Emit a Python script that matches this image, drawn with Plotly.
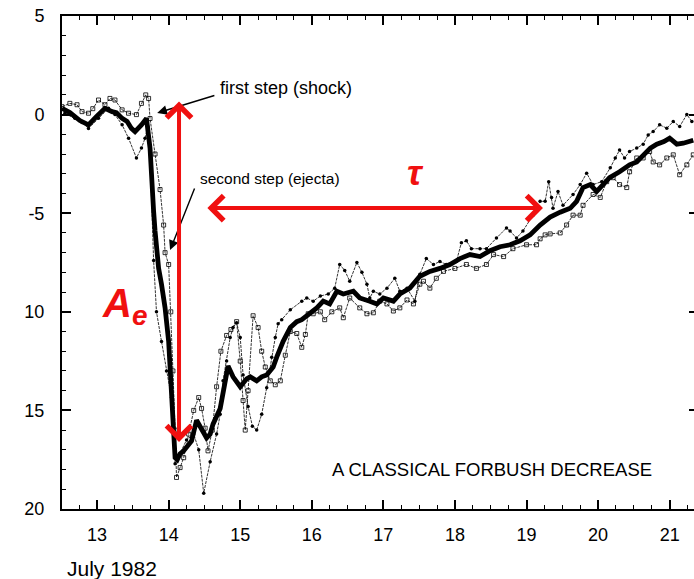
import plotly.graph_objects as go

# Cosmic-ray intensity (% change) vs. day of July 1982
# Hourly-smoothed average (thick) and two individual station records (thin)
avg_series = [
    (12.51, 0.32), (12.62, 0.1), (12.76, -0.3), (12.88, -0.52), (12.99, -0.1), (13.11, 0.32),
    (13.21, 0.15), (13.27, 0.1), (13.35, -0.19), (13.42, -0.35), (13.48, -0.7), (13.53, -0.86),
    (13.62, -0.52), (13.69, -0.19), (13.74, -1.7), (13.76, -3.4), (13.79, -4.9), (13.81, -5.9),
    (13.86, -7.8), (13.90, -8.6), (13.95, -9.8), (14.00, -11.5), (14.04, -13.85), (14.07, -16.2),
    (14.09, -17.4), (14.12, -17.5), (14.16, -17.2), (14.21, -17.05), (14.26, -16.8), (14.32, -16.55),
    (14.39, -15.5), (14.46, -15.9), (14.53, -16.4), (14.58, -16.2), (14.62, -15.7), (14.72, -14.9),
    (14.81, -13.2), (14.83, -12.75), (14.90, -13.3), (15.00, -13.8), (15.09, -13.4), (15.14, -13.3),
    (15.23, -13.5), (15.30, -13.3), (15.37, -13.2), (15.46, -12.8), (15.51, -12.3), (15.60, -11.5),
    (15.70, -10.8), (15.79, -10.5), (15.86, -10.4), (15.93, -10.2), (16.00, -10.0), (16.07, -9.8),
    (16.16, -9.46), (16.25, -9.6), (16.35, -8.96), (16.44, -9.1), (16.58, -8.96), (16.67, -9.3),
    (16.81, -9.46), (16.91, -9.6), (17.00, -9.3), (17.14, -9.46), (17.23, -9.1), (17.37, -8.8),
    (17.51, -8.2), (17.65, -7.95), (17.79, -7.8), (17.93, -7.6), (18.07, -7.3), (18.21, -7.1),
    (18.35, -7.2), (18.49, -6.9), (18.63, -6.7), (18.77, -6.6), (18.91, -6.4), (19.05, -6.1),
    (19.19, -5.6), (19.33, -5.2), (19.47, -4.95), (19.61, -4.75), (19.70, -4.4), (19.79, -3.7),
    (19.89, -3.55), (19.98, -3.9), (20.07, -3.55), (20.16, -3.2), (20.30, -2.9), (20.44, -2.55),
    (20.54, -2.4), (20.63, -2.1), (20.73, -1.7), (20.82, -1.5), (20.92, -1.37), (21.00, -1.2),
    (21.10, -1.5), (21.19, -1.45), (21.33, -1.3),
]

station_a = [
    (12.51, 0.4), (12.62, 0.57), (12.72, 0.5), (12.79, 0.15), (12.88, 0.07), (12.94, 0.3),
    (13.02, 0.74), (13.11, 0.5), (13.18, 0.82), (13.25, 0.74), (13.35, 0.24), (13.44, 0.07),
    (13.55, 0.0), (13.62, 0.57), (13.68, 1.0), (13.72, 0.82), (13.74, -0.2), (13.81, -2.0),
    (13.88, -3.8), (13.93, -5.6), (13.95, -7.0), (14.00, -7.6), (14.03, -10.0), (14.06, -13.0),
    (14.09, -16.0), (14.11, -18.4), (14.16, -17.9), (14.21, -17.4), (14.28, -16.2), (14.35, -15.0),
    (14.42, -14.35), (14.46, -14.9), (14.51, -15.9), (14.55, -17.05), (14.61, -16.0), (14.67, -13.8),
    (14.73, -12.0), (14.81, -11.2), (14.87, -10.9), (14.95, -10.5), (15.00, -12.5), (15.04, -14.5),
    (15.07, -16.0), (15.11, -14.0), (15.18, -10.2), (15.25, -10.8), (15.30, -12.0), (15.35, -12.8),
    (15.42, -13.5), (15.49, -13.7), (15.56, -13.5), (15.63, -12.2), (15.70, -11.0), (15.79, -11.1),
    (15.86, -11.8), (15.91, -11.15), (15.95, -10.1), (16.02, -10.1), (16.12, -10.0), (16.18, -10.4),
    (16.28, -10.0), (16.39, -9.8), (16.44, -10.3), (16.53, -9.3), (16.67, -9.8), (16.77, -10.1),
    (16.86, -10.05), (16.95, -9.46), (17.05, -9.6), (17.14, -9.96), (17.23, -9.8), (17.33, -9.4),
    (17.42, -9.6), (17.51, -8.6), (17.56, -8.45), (17.65, -8.8), (17.74, -8.3), (17.84, -7.95),
    (18.00, -7.8), (18.16, -7.6), (18.30, -7.8), (18.44, -7.6), (18.54, -7.1), (18.68, -7.2),
    (18.81, -6.8), (19.00, -6.6), (19.14, -6.6), (19.19, -6.3), (19.26, -6.1), (19.33, -6.05),
    (19.47, -6.0), (19.56, -5.6), (19.65, -5.1), (19.75, -5.1), (19.79, -4.6), (19.93, -4.05),
    (20.03, -4.2), (20.12, -3.4), (20.21, -3.2), (20.30, -3.55), (20.40, -3.7), (20.44, -2.9),
    (20.54, -2.2), (20.63, -2.2), (20.72, -1.87), (20.77, -2.4), (20.86, -2.55), (20.96, -2.2),
    (21.05, -2.04), (21.14, -3.05), (21.24, -2.55), (21.33, -2.04),
]

station_b = [
    (12.55, 0.07), (12.69, -0.19), (12.79, -0.4), (12.88, -0.7), (13.02, -0.19), (13.16, 0.32),
    (13.25, 0.0), (13.35, -0.52), (13.44, -1.2), (13.55, -2.2), (13.62, -1.7), (13.67, -1.2),
    (13.71, -0.6), (13.74, -2.0), (13.79, -7.4), (13.83, -10.0), (13.90, -11.5), (13.97, -13.0),
    (14.04, -14.35), (14.09, -17.7), (14.16, -17.2), (14.25, -16.5), (14.35, -16.2), (14.42, -17.0),
    (14.49, -19.2), (14.58, -17.6), (14.67, -16.2), (14.72, -15.2), (14.76, -13.5), (14.81, -12.5),
    (14.86, -11.3), (14.90, -10.8), (14.95, -10.55), (15.00, -11.3), (15.04, -13.2), (15.11, -14.8),
    (15.17, -15.8), (15.23, -16.0), (15.30, -15.2), (15.37, -13.85), (15.44, -12.3), (15.49, -11.3),
    (15.53, -10.6), (15.58, -10.4), (15.70, -9.9), (15.86, -9.46), (15.93, -9.3), (16.02, -9.46),
    (16.12, -9.2), (16.23, -9.1), (16.32, -8.8), (16.39, -7.6), (16.46, -7.9), (16.53, -8.45),
    (16.63, -7.5), (16.70, -8.0), (16.77, -8.6), (16.81, -9.3), (16.86, -8.96), (16.95, -9.1),
    (17.05, -8.8), (17.16, -8.3), (17.23, -8.96), (17.33, -8.8), (17.44, -9.46), (17.51, -8.1),
    (17.60, -7.3), (17.70, -7.6), (17.79, -7.45), (17.88, -7.6), (18.02, -7.45), (18.09, -6.5),
    (18.16, -6.4), (18.23, -6.8), (18.35, -6.8), (18.44, -6.8), (18.58, -6.26), (18.72, -5.75),
    (18.77, -5.9), (18.86, -6.26), (18.95, -5.9), (19.09, -5.1), (19.19, -4.4), (19.26, -4.4),
    (19.31, -3.4), (19.35, -4.2), (19.37, -4.75), (19.44, -3.9), (19.51, -4.6), (19.65, -4.05),
    (19.75, -3.55), (19.84, -2.97), (19.93, -3.55), (20.05, -3.4), (20.17, -2.7), (20.24, -2.2),
    (20.30, -1.8), (20.37, -2.2), (20.44, -1.87), (20.54, -1.7), (20.63, -1.5), (20.70, -1.03),
    (20.77, -0.86), (20.86, -0.52), (20.96, -0.69), (21.05, -0.35), (21.14, -0.6), (21.24, 0.0),
    (21.31, -0.35),
]

day_ticks = [13, 14, 15, 16, 17, 18, 19, 20, 21]
pct_ticks = [5, 0, -5, -10, -15, -20]
pct_labels = ["5", "0", "-5", "10", "15", "20"]

FONT = "Liberation Sans, Arial, Helvetica, sans-serif"
RED = "#f01010"


def unzip(pairs):
    return [p[0] for p in pairs], [p[1] for p in pairs]


fig = go.Figure()

ax_, ay_ = unzip(station_a)
bx_, by_ = unzip(station_b)
mx_, my_ = unzip(avg_series)

fig.add_trace(go.Scatter(
    x=ax_, y=ay_, mode="lines+markers",
    line=dict(color="black", width=0.8, dash="3px,1px"),
    marker=dict(symbol="square-open", size=4, color="black", line=dict(width=0.8)),
))
fig.add_trace(go.Scatter(
    x=bx_, y=by_, mode="lines+markers",
    line=dict(color="black", width=0.8, dash="3px,1px"),
    marker=dict(symbol="circle", size=3.5, color="black"),
))
fig.add_trace(go.Scatter(
    x=mx_, y=my_, mode="lines",
    line=dict(color="black", width=4.8),
))
# right-hand axis carrying only inward tick marks
fig.add_trace(go.Scatter(x=[13], y=[0], yaxis="y2", mode="markers",
                         marker=dict(opacity=0), hoverinfo="skip"))

annotations = [
    # black pointer arrows and their labels
    dict(x=13.84, y=0.08, ax=14.66, ay=0.99, xref="x", yref="y", axref="x", ayref="y",
         text="", showarrow=True, arrowhead=2, arrowsize=1.4, arrowwidth=1.4,
         arrowcolor="black", standoff=0),
    dict(x=14.69, y=1.35, xref="x", yref="y", text="first step (shock)", showarrow=False,
         xanchor="left", yanchor="middle", font=dict(family=FONT, size=18, color="black")),
    dict(x=14.02, y=-6.87, ax=14.37, ay=-3.67, xref="x", yref="y", axref="x", ayref="y",
         text="", showarrow=True, arrowhead=2, arrowsize=1.4, arrowwidth=1.4,
         arrowcolor="black", standoff=0),
    dict(x=14.41, y=-3.22, xref="x", yref="y", text="second step (ejecta)", showarrow=False,
         xanchor="left", yanchor="middle", font=dict(family=FONT, size=15.5, color="black")),
    # amplitude and recovery-time markers
    dict(x=14.145, y=-16.6, ax=14.145, ay=0.74, xref="x", yref="y", axref="x", ayref="y",
         text="", showarrow=True, arrowhead=4, arrowside="end+start", arrowsize=1.2,
         arrowwidth=4, arrowcolor=RED, standoff=0, startstandoff=0),
    dict(x=19.23, y=-4.74, ax=14.52, ay=-4.74, xref="x", yref="y", axref="x", ayref="y",
         text="", showarrow=True, arrowhead=4, arrowside="end+start", arrowsize=1.2,
         arrowwidth=4, arrowcolor=RED, standoff=0, startstandoff=0),
    dict(x=13.38, y=-9.7, xref="x", yref="y", text="<b><i>A<sub>e</sub></i></b>",
         showarrow=False, font=dict(family=FONT, size=40, color=RED)),
    dict(x=17.45, y=-2.95, xref="x", yref="y", text="<b><i>τ</i></b>",
         showarrow=False, font=dict(family=FONT, size=36, color=RED)),
    dict(x=16.25, y=-18.0, xref="x", yref="y", text="A CLASSICAL FORBUSH DECREASE",
         showarrow=False, xanchor="left", yanchor="middle",
         font=dict(family=FONT, size=18.5, color="black")),
    dict(x=0.005, y=-0.12, xref="paper", yref="paper", text="July 1982",
         showarrow=False, xanchor="left", yanchor="middle",
         font=dict(family=FONT, size=21, color="black")),
]

fig.update_layout(
    width=694, height=579,
    margin=dict(l=62, r=0, t=16, b=70),
    paper_bgcolor="white", plot_bgcolor="white",
    showlegend=False,
    font=dict(family=FONT, size=18, color="black"),
    annotations=annotations,
    xaxis=dict(
        range=[12.51, 21.34], tickmode="array", tickvals=day_ticks,
        ticks="inside", ticklen=9, tickwidth=1.5, tickcolor="black",
        showline=True, linewidth=2, linecolor="black", mirror="ticks",
        showgrid=False, zeroline=False, ticklabelstandoff=8,
        tickfont=dict(family=FONT, size=18, color="black"),
        minor=dict(tickmode="linear", tick0=13, dtick=0.25, ticks="inside",
                   ticklen=4, tickwidth=1.2, tickcolor="black", showgrid=False),
    ),
    yaxis=dict(
        range=[-20, 5], tickmode="array", tickvals=pct_ticks, ticktext=pct_labels,
        ticks="inside", ticklen=9, tickwidth=1.5, tickcolor="black",
        showline=True, linewidth=2, linecolor="black", mirror=False,
        showgrid=False, zeroline=False, ticklabelstandoff=12,
        tickfont=dict(family=FONT, size=18, color="black"),
        minor=dict(tickmode="linear", tick0=0, dtick=1, ticks="inside",
                   ticklen=4, tickwidth=1.2, tickcolor="black", showgrid=False),
    ),
    yaxis2=dict(
        range=[-20, 5], overlaying="y", side="right", tickmode="array",
        tickvals=pct_ticks, ticks="inside", ticklen=5, tickwidth=1.5, tickcolor="black",
        showticklabels=False, showline=False, showgrid=False, zeroline=False,
    ),
)

fig.write_html("out.html")
